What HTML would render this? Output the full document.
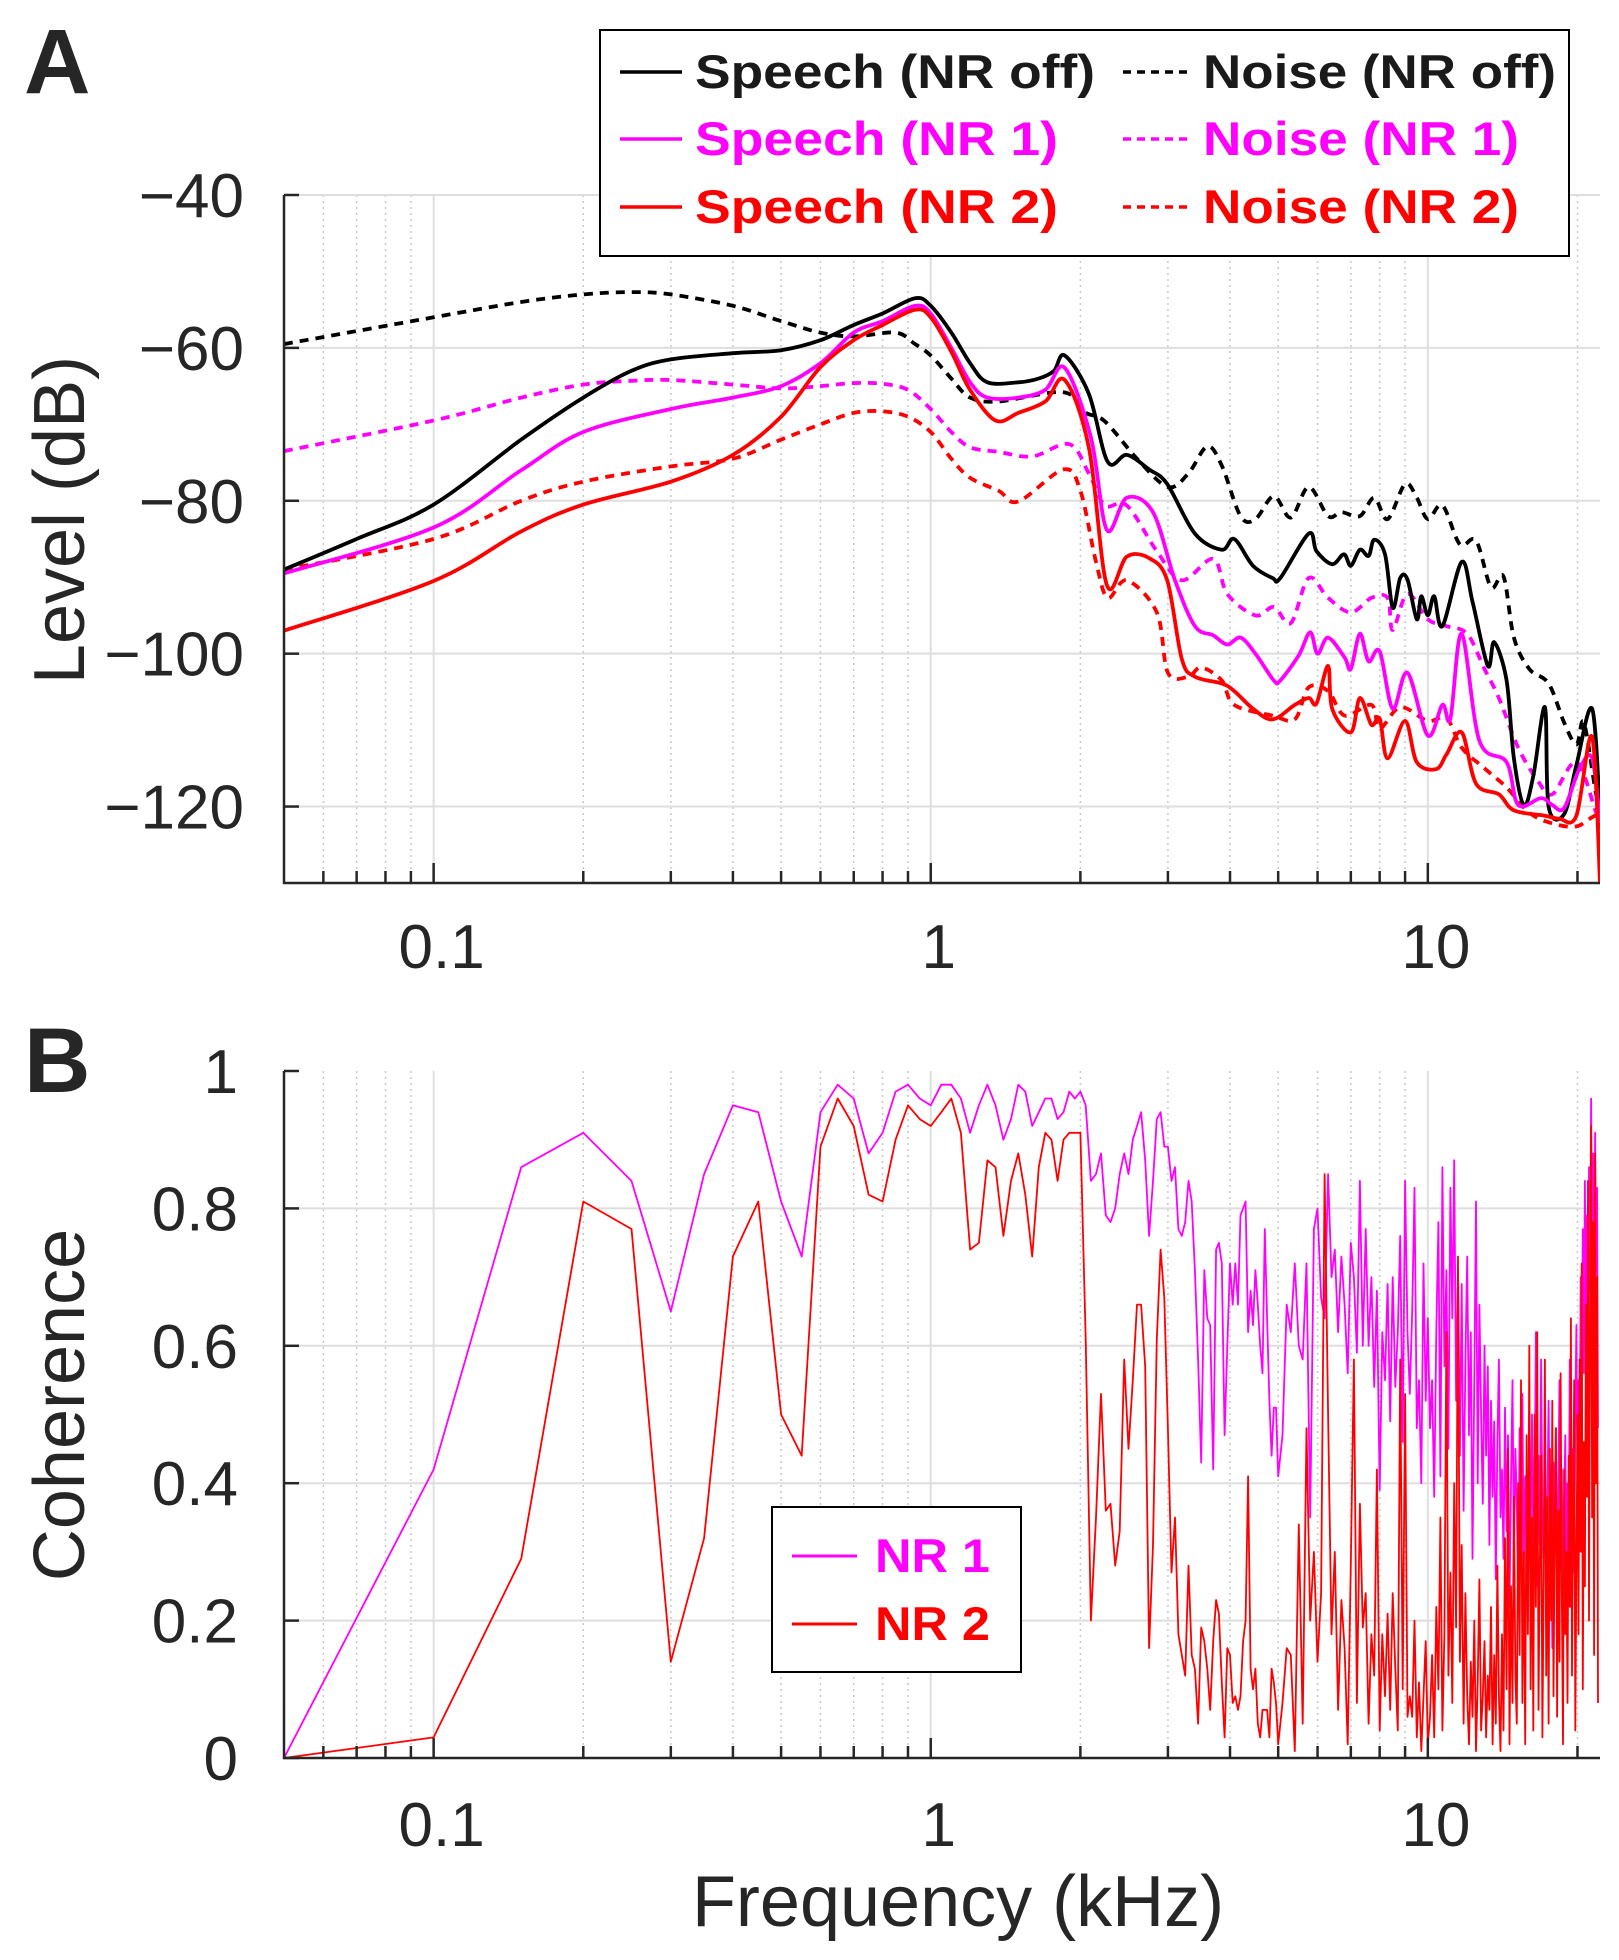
<!DOCTYPE html>
<html><head><meta charset="utf-8"><title>Speech/Noise spectra and coherence</title>
<style>
html,body{margin:0;padding:0;background:#fff;}
svg{display:block;font-family:"Liberation Sans",Arial,sans-serif;}
</style></head>
<body>
<svg id="fig" width="1619" height="1960" viewBox="0 0 1619 1960" xmlns="http://www.w3.org/2000/svg">
<defs>
<clipPath id="clipA"><rect x="284" y="195" width="1316" height="688"/></clipPath>
<clipPath id="clipB"><rect x="284" y="1071" width="1316" height="687"/></clipPath>
</defs>
<rect width="1619" height="1960" fill="#fff"/>
<g id="gridA"></g>
<g id="gridB"></g>
<g id="seriesA" clip-path="url(#clipA)"></g>
<g id="seriesB" clip-path="url(#clipB)"></g>
<g id="axesA"></g>
<g id="axesB"></g>

<text x="24" y="93" font-size="92" font-weight="bold" fill="#262626">A</text>
<text x="24" y="1092" font-size="92" font-weight="bold" fill="#262626">B</text>
<text transform="translate(84,520) rotate(-90)" text-anchor="middle" font-size="72" fill="#262626">Level (dB)</text>
<text transform="translate(84,1405) rotate(-90)" text-anchor="middle" font-size="72" fill="#262626">Coherence</text>
<text x="958" y="1926" text-anchor="middle" font-size="72" fill="#262626">Frequency (kHz)</text>

<g>
<rect x="600" y="30" width="969" height="226" fill="#fff" stroke="#000" stroke-width="2"/>
<g><line x1="620" y1="72" x2="682" y2="72" stroke="#000" stroke-width="3.5"/><text x="695" y="88" font-size="47" font-weight="bold" fill="#1a1a1a" textLength="400" lengthAdjust="spacingAndGlyphs">Speech (NR off)</text></g>
<g><line x1="1123" y1="72" x2="1189" y2="72" stroke="#000" stroke-width="3.5" stroke-dasharray="8,6"/><text x="1203" y="88" font-size="47" font-weight="bold" fill="#1a1a1a" textLength="353" lengthAdjust="spacingAndGlyphs">Noise (NR off)</text></g>
<g><line x1="620" y1="139" x2="682" y2="139" stroke="#ff00ff" stroke-width="3.5"/><text x="695" y="155" font-size="47" font-weight="bold" fill="#ff00ff" textLength="363" lengthAdjust="spacingAndGlyphs">Speech (NR 1)</text></g>
<g><line x1="1123" y1="139" x2="1189" y2="139" stroke="#ff00ff" stroke-width="3.5" stroke-dasharray="8,6"/><text x="1203" y="155" font-size="47" font-weight="bold" fill="#ff00ff" textLength="316" lengthAdjust="spacingAndGlyphs">Noise (NR 1)</text></g>
<g><line x1="620" y1="207" x2="682" y2="207" stroke="#ff0000" stroke-width="3.5"/><text x="695" y="223" font-size="47" font-weight="bold" fill="#ff0000" textLength="363" lengthAdjust="spacingAndGlyphs">Speech (NR 2)</text></g>
<g><line x1="1123" y1="207" x2="1189" y2="207" stroke="#ff0000" stroke-width="3.5" stroke-dasharray="8,6"/><text x="1203" y="223" font-size="47" font-weight="bold" fill="#ff0000" textLength="316" lengthAdjust="spacingAndGlyphs">Noise (NR 2)</text></g>
</g>

<g>
<rect x="772" y="1507" width="249" height="165" fill="#fff" stroke="#000" stroke-width="2"/>
<g><line x1="792" y1="1556" x2="857" y2="1556" stroke="#ff00ff" stroke-width="3"/><text x="875" y="1572" font-size="47" font-weight="bold" fill="#ff00ff" textLength="115" lengthAdjust="spacingAndGlyphs">NR 1</text></g>
<g><line x1="792" y1="1624" x2="857" y2="1624" stroke="#ff0000" stroke-width="3"/><text x="875" y="1640" font-size="47" font-weight="bold" fill="#ff0000" textLength="115" lengthAdjust="spacingAndGlyphs">NR 2</text></g>
</g>
</svg>

<script>
// ---------- Panel A data (kHz, dB) ----------
const speechOffF = [0.05,0.07,0.1,0.15,0.2,0.25,0.3,0.4,0.5,0.6,0.7,0.8,0.93,1.0,1.1,1.2,1.3,1.5,1.65,1.77,1.86,2.08,2.27,2.48,2.75,2.99,3.4,3.85,4.08,4.45,4.87,5.05,5.76,5.97,6.42,6.78,7.0,7.3,7.6,7.8,8.2,8.5,8.8,9.1,9.5,9.7,10.0,10.3,10.7,11.7,12.3,13.2,13.6,14.4,14.9,15.6,16.3,17.2,17.5,18.8,19.9,21.4,22.2];
const speechOffDb = [-89,-85,-80.5,-72,-66.5,-63,-61.5,-60.7,-60.3,-59,-57,-55.5,-53.5,-54.5,-58,-62,-64.5,-64.5,-64,-63,-61,-66,-74.9,-74,-75.9,-77.8,-84.3,-86.4,-85,-88.5,-90.1,-90.1,-84.3,-86.6,-88.3,-87,-88.5,-86.4,-87.2,-85.1,-87,-94,-90.1,-90.3,-95.5,-92.5,-95,-92.5,-96.4,-88,-93.2,-101.6,-98.5,-103.5,-113.7,-119.8,-116,-107,-120,-121,-114.6,-107.2,-121];

const speechNr1F = [0.05,0.1,0.15,0.2,0.3,0.4,0.5,0.6,0.7,0.8,0.93,1.0,1.1,1.2,1.3,1.5,1.7,1.86,2.1,2.26,2.48,2.8,3.1,3.4,3.7,3.95,4.2,4.5,4.9,5.05,5.5,5.8,6.0,6.3,6.8,7.0,7.3,7.6,8.0,8.5,9.1,10.0,10.7,11.1,11.7,12.7,14.4,15.2,16.9,17.8,18.8,20.2,21.4,22.2];
const speechNr1Db = [-89.5,-83.5,-76,-71,-68,-66.5,-65,-62,-58,-56.5,-54.5,-55.5,-60,-64.5,-66.5,-66.5,-65.5,-62.6,-71.7,-83.8,-79.6,-81.5,-90.4,-96.4,-97.6,-98.8,-97.9,-100,-103.5,-103.5,-100.2,-97.2,-100,-97.9,-100.5,-102,-97.4,-101,-99.7,-107.2,-102.5,-110.7,-106.7,-108.5,-97.4,-111.4,-114.2,-119.8,-118.9,-119.8,-120.2,-115,-113.7,-122];

const speechNr2F = [0.05,0.1,0.15,0.2,0.3,0.4,0.5,0.6,0.7,0.8,0.93,1.0,1.1,1.2,1.35,1.5,1.7,1.86,2.08,2.26,2.48,2.75,2.99,3.2,3.4,3.85,4.08,4.45,4.87,5.4,5.76,5.97,6.3,6.42,7.0,7.3,7.7,8.0,8.3,9.0,9.5,10.4,10.9,11.7,12.5,13.9,14.9,17.2,18.4,19.9,21.4,22.2];
const speechNr2Db = [-97,-90.5,-84,-80.5,-77.5,-74,-69,-62.5,-59,-57,-55,-56,-60.5,-65.5,-69.5,-68.5,-67,-64.2,-73,-91,-87.3,-87.5,-90.4,-100.7,-103,-103.9,-104.9,-107.2,-108.6,-106.7,-105.8,-106.5,-101.6,-107.2,-110.3,-105.8,-109.3,-108.5,-113.7,-108.8,-114.2,-115.1,-113.2,-110.3,-117,-118.4,-120.5,-121.2,-121.6,-121.2,-110.9,-130];

const noiseOffF = [0.05,0.1,0.15,0.2,0.25,0.3,0.4,0.5,0.6,0.7,0.85,0.93,1.0,1.1,1.2,1.37,1.85,2.04,2.24,2.6,3.0,3.3,3.6,3.85,4.2,4.5,4.9,5.3,5.76,6.3,6.7,7.3,7.8,8.3,9.0,9.5,10.0,10.7,11.6,12.5,13.4,14.2,14.9,16.0,17.5,18.8,19.9,20.6,21.8,22.2];
const noiseOffDb = [-59.5,-56,-54,-53,-52.7,-53,-54.5,-56.5,-58,-58.5,-58,-59.5,-61,-64,-66.5,-67,-65.8,-68.4,-69.6,-74.5,-78.2,-76.4,-72.9,-75.4,-82,-82.4,-79.4,-82.2,-78.2,-82,-81.5,-82,-79.6,-82.4,-77.8,-79.6,-82.4,-80.6,-85.7,-85.2,-91.3,-89.9,-97.9,-102,-103.9,-109,-111.9,-109,-118.4,-119];

const noiseNr1F = [0.05,0.1,0.15,0.2,0.25,0.3,0.4,0.5,0.6,0.7,0.8,0.9,1.0,1.1,1.2,1.37,1.6,1.9,2.08,2.24,2.48,2.85,3.2,3.7,3.95,4.5,4.9,5.3,5.76,6.3,7.0,7.7,8.3,8.5,9.1,10.0,10.9,12.0,13.0,13.9,15.2,16.6,17.8,19.9,21.8,22.2];
const noiseNr1Db = [-73.5,-69.5,-66.5,-64.8,-64.3,-64.2,-64.8,-65.3,-65,-64.6,-64.7,-65.5,-68,-71,-73,-73.6,-74.2,-72.6,-76.4,-80.6,-80.6,-86.6,-90.4,-87.6,-92.2,-95,-93.9,-96,-90.1,-92.7,-94.6,-92.7,-92.7,-96.9,-92.2,-95.5,-96.4,-97.4,-102,-105.8,-112.3,-116.5,-118.4,-114.2,-120.8,-122];

const noiseNr2F = [0.05,0.1,0.15,0.2,0.3,0.4,0.5,0.6,0.7,0.8,0.9,1.0,1.1,1.2,1.37,1.5,1.85,2.0,2.15,2.27,2.48,2.85,3.0,3.3,3.5,3.85,4.08,4.87,5.4,5.76,6.3,6.8,7.7,8.0,8.8,10.0,10.9,11.7,13.0,14.4,16.0,17.8,19.9,21.8,22.2];
const noiseNr2Db = [-89,-85,-80,-77.5,-75.5,-74.5,-72,-70,-68.5,-68.3,-69,-71,-74.5,-77,-78.7,-80.1,-75.9,-78.7,-88,-92.7,-90.4,-94.6,-102.5,-103,-101.8,-103.5,-106.7,-108.1,-108.6,-104.4,-104.9,-108.1,-106.7,-109.8,-107,-108.8,-108.4,-112.3,-115,-117.5,-120.8,-122.2,-122.6,-121.2,-123];

// ---------- Panel B data (coherence x100) ----------
const cohBinRanges = [[0.05,5.0,0.05],[5.1,22.0,0.1]]; // FFT bin grid (start, end, step kHz)
const cohNr1 = [0,42,86,91,84,65,85,95,94,81,73,94,98,96,88,91,97,98,96,95,98,98,96,91,95,98,95,90,93,98,97,92,94,96,96,93,94,97,96,97,
95,84,85,88,79,78,80,85,88,85,90,92,94,87,76,84,93,94,89,89,84,86,77,76,78,84,81,71,58,43,71,64,63,42,74,75,72,47,60,72,66,72,66,79,80,81,62,68,63,71,66,60,56,77,64,52,44,51,51,41,
47,66,62,72,60,58,72,35,77,80,67,64,85,70,74,62,73,66,56,75,70,59,84,60,77,60,70,54,68,39,62,55,69,49,70,54,62,76,46,84,62,53,65,83,48,55,40,72,52,64,
48,55,38,62,78,41,86,57,71,45,83,64,87,52,71,44,69,36,58,73,47,62,29,55,81,40,66,50,37,60,44,57,31,52,38,49,26,46,58,35,42,29,51,33,47,22,40,55,30,45,37,24,48,31,53,27,41,35,20,46,33,50,28,39,62,25,44,31,58,36,29,45,19,38,52,27,35,16,43,30,48,24,39,55,28,42,21,36,47,26,40,31,58,22,45,34,27,50,63,38,55,42,70,48,77,56,84,62,79,58,86,68,96,73,88,60,91,71,83,48];
const cohNr2 = [0,3,29,81,77,14,32,73,81,50,44,89,96,92,82,81,90,95,93,92,94,96,91,74,75,87,86,76,84,88,82,73,86,91,90,84,90,91,91,91,
61,20,35,53,36,37,28,33,58,45,55,66,66,57,16,31,61,74,67,48,27,35,18,15,12,28,15,13,5,19,17,13,7,17,23,21,11,3,16,15,8,9,7,9,17,20,41,13,10,13,5,3,7,7,7,3,13,11,8,2,
8,16,15,1,34,5,48,20,30,14,24,85,50,18,30,7,23,16,2,28,58,8,37,19,24,5,18,12,42,4,18,9,21,7,24,13,4,58,10,53,6,9,6,20,3,11,1,9,17,2,
6,15,3,22,10,35,4,18,62,12,27,8,40,19,73,14,31,5,24,9,2,14,6,20,1,11,26,4,9,17,3,12,7,22,2,15,5,28,9,1,18,4,32,10,45,2,25,8,38,12,5,40,15,55,8,30,2,47,18,60,10,35,4,50,22,62,7,28,44,3,26,58,12,38,5,45,20,52,9,33,48,6,36,14,56,24,2,42,18,30,8,44,22,64,12,36,55,4,28,50,18,58,30,72,10,46,25,66,38,84,20,60,92,35,78,15,88,40,70,8];

const yTicksA = [-40,-60,-80,-100,-120];
const yTickLabelsA = ["\u221240","\u221260","\u221280","\u2212100","\u2212120"];
const yTicksB = [0,0.2,0.4,0.6,0.8,1];
const yTickLabelsB = ["0","0.2","0.4","0.6","0.8","1"];
const xTicks = [0.1,1,10];
const xTickLabels = ["0.1","1","10"];

// ---------- scales ----------
const X0=284, X1=1600, FMIN=0.05, FMAX=22.2;
const AY0=195, AY1=883, DBTOP=-40, DBBOT=-130;
const BY0=1071, BY1=1758;
function xs(f){return X0+(Math.log10(f)-Math.log10(FMIN))/(Math.log10(FMAX)-Math.log10(FMIN))*(X1-X0);}
function ya(db){return AY0+(DBTOP-db)/(DBTOP-DBBOT)*(AY1-AY0);}
function yb(c){return BY1-c*(BY1-BY0);}

const NS="http://www.w3.org/2000/svg";
function mk(tag,attrs,parent){const e=document.createElementNS(NS,tag);for(const k in attrs)e.setAttribute(k,attrs[k]);parent.appendChild(e);return e;}

const minorF=[];
[0.01,0.1,1,10].forEach(d=>{for(let m=2;m<=9;m++){const f=m*d;if(f>FMIN&&f<FMAX)minorF.push(f);}});

function drawGrid(g,yTop,yBot,yVals,yfn){
  minorF.forEach(f=>{
    const l=mk('line',{x1:xs(f),x2:xs(f),y1:yTop,y2:yBot,stroke:'#c8c8c8','stroke-width':1.5,'stroke-dasharray':'2,4'},g);
    
    
  });
  xTicks.forEach(f=>{
    const l=mk('line',{x1:xs(f),x2:xs(f),y1:yTop,y2:yBot,stroke:'#dedede','stroke-width':2},g);
    
    
  });
  yVals.forEach(v=>{
    const l=mk('line',{x1:X0,x2:X1,y1:yfn(v),y2:yfn(v),stroke:'#dedede','stroke-width':2},g);
    
    
  });
}
drawGrid(document.getElementById('gridA'),AY0,AY1,yTicksA,ya);
drawGrid(document.getElementById('gridB'),BY0,BY1,yTicksB.filter(v=>v>0&&v<1),yb);

function drawAxes(g,yTop,yBot,yVals,yLabels,yfn,xLabelBase,yLabelRight){
  const ax=mk('path',{d:`M${X0},${yTop}V${yBot}H${X1}`,fill:'none',stroke:'#262626','stroke-width':2.5},g);
  
  
  minorF.forEach(f=>{
    const t=mk('line',{x1:xs(f),x2:xs(f),y1:yBot,y2:yBot-12,stroke:'#262626','stroke-width':2.5},g);
    
    
  });
  xTicks.forEach((f,i)=>{
    const t=mk('line',{x1:xs(f),x2:xs(f),y1:yBot,y2:yBot-20,stroke:'#262626','stroke-width':2.5},g);
    
    
    const tx=mk('text',{x:xs(f)+8,y:xLabelBase,'text-anchor':'middle','font-size':62,fill:'#262626'},g);
    
    
    tx.textContent=xTickLabels[i];
  });
  yVals.forEach((v,i)=>{
    const t=mk('line',{x1:X0,x2:X0+15,y1:yfn(v),y2:yfn(v),stroke:'#262626','stroke-width':2.5},g);
    
    
    const tx=mk('text',{x:yLabelRight,y:yfn(v)+22,'text-anchor':'end','font-size':62,fill:'#262626'},g);
    
    
    tx.textContent=yLabels[i];
  });
}
drawAxes(document.getElementById('axesA'),AY0,AY1,yTicksA,yTickLabelsA,ya,968,244);
drawAxes(document.getElementById('axesB'),BY0,BY1,yTicksB,yTickLabelsB,yb,1846,238);

function smoothPath(pts){
  let d=`M${pts[0][0].toFixed(1)},${pts[0][1].toFixed(1)}`;
  for(let i=0;i<pts.length-1;i++){
    const p0=pts[Math.max(0,i-1)],p1=pts[i],p2=pts[i+1],p3=pts[Math.min(pts.length-1,i+2)];
    const c1=[p1[0]+(p2[0]-p0[0])/6,p1[1]+(p2[1]-p0[1])/6];
    const c2=[p2[0]-(p3[0]-p1[0])/6,p2[1]-(p3[1]-p1[1])/6];
    d+=`C${c1[0].toFixed(1)},${c1[1].toFixed(1)} ${c2[0].toFixed(1)},${c2[1].toFixed(1)} ${p2[0].toFixed(1)},${p2[1].toFixed(1)}`;
  }
  return d;
}
const gA=document.getElementById('seriesA');
function drawA(fs,dbs,color,dashed,name){
  const pts=fs.map((f,i)=>[xs(f),ya(dbs[i])]);
  const p=mk('path',{d:smoothPath(pts),fill:'none',stroke:color,'stroke-width':3.8,'stroke-linejoin':'round'},gA);
  if(dashed)p.setAttribute('stroke-dasharray','9,7');
  
  
}
drawA(noiseOffF,noiseOffDb,'#000',true,'noise-nr-off-line');
drawA(noiseNr1F,noiseNr1Db,'#ff00ff',true,'noise-nr1-line');
drawA(noiseNr2F,noiseNr2Db,'#ff0000',true,'noise-nr2-line');
drawA(speechOffF,speechOffDb,'#000',false,'speech-nr-off-line');
drawA(speechNr1F,speechNr1Db,'#ff00ff',false,'speech-nr1-line');
drawA(speechNr2F,speechNr2Db,'#ff0000',false,'speech-nr2-line');

const cohF=[];
cohBinRanges.forEach(r=>{const n=Math.round((r[1]-r[0])/r[2]);for(let i=0;i<=n;i++)cohF.push(+(r[0]+i*r[2]).toFixed(3));});
const gB=document.getElementById('seriesB');
function drawB(vals,color,name){
  const n=Math.min(vals.length,cohF.length);
  let pts=[];
  for(let i=0;i<n;i++)pts.push(xs(cohF[i]).toFixed(1)+','+yb(vals[i]/100).toFixed(1));
  const p=mk('polyline',{points:pts.join(' '),fill:'none',stroke:color,'stroke-width':1.8,'stroke-linejoin':'round'},gB);
  
  
}
drawB(cohNr1,'#ff00ff','coherence-nr1-line');
drawB(cohNr2,'#ff0000','coherence-nr2-line');
</script>
</body></html>
